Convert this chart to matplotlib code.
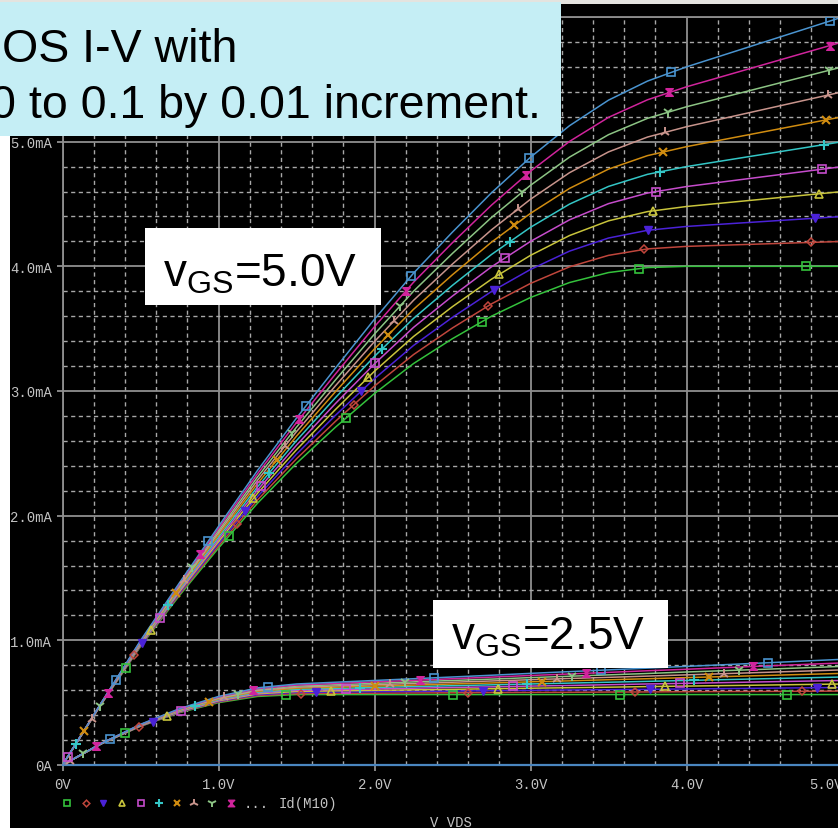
import numpy as np
import matplotlib
matplotlib.use("Agg")
import matplotlib.pyplot as plt
from matplotlib.patches import Rectangle
from matplotlib.lines import Line2D
from matplotlib.path import Path

# ---------------- data ----------------
vds = [0, 0.25, 0.5, 0.75, 1.0, 1.25, 1.5, 1.75, 2.0, 2.25, 2.5, 2.75,
       3.0, 3.25, 3.5, 3.75, 4.0, 4.5, 5.0]
lambdas = [0.00, 0.01, 0.02, 0.03, 0.04, 0.05, 0.06, 0.07, 0.08, 0.09, 0.10]

# vGS = 5.0 V family, Id in mA
id5_l00 = [0, 0.490, 0.950, 1.360, 1.740, 2.100, 2.420, 2.710, 2.980, 3.220, 3.420, 3.600, 3.750, 3.870, 3.950, 3.990, 4.00, 4.00, 4.00]
id5_l01 = [0, 0.491, 0.955, 1.370, 1.757, 2.126, 2.456, 2.757, 3.040, 3.292, 3.506, 3.699, 3.863, 3.996, 4.088, 4.140, 4.16, 4.18, 4.20]
id5_l02 = [0, 0.492, 0.960, 1.380, 1.775, 2.153, 2.493, 2.805, 3.099, 3.365, 3.591, 3.798, 3.975, 4.122, 4.227, 4.289, 4.32, 4.36, 4.40]
id5_l03 = [0, 0.494, 0.964, 1.391, 1.792, 2.179, 2.529, 2.852, 3.159, 3.437, 3.677, 3.897, 4.088, 4.247, 4.365, 4.439, 4.48, 4.54, 4.60]
id5_l04 = [0, 0.495, 0.969, 1.401, 1.810, 2.205, 2.565, 2.900, 3.218, 3.510, 3.762, 3.996, 4.200, 4.373, 4.503, 4.588, 4.64, 4.72, 4.80]
id5_l05 = [0, 0.496, 0.974, 1.411, 1.827, 2.231, 2.602, 2.947, 3.278, 3.582, 3.848, 4.095, 4.313, 4.499, 4.641, 4.738, 4.80, 4.90, 5.00]
id5_l06 = [0, 0.497, 0.979, 1.421, 1.844, 2.258, 2.638, 2.995, 3.338, 3.655, 3.933, 4.194, 4.425, 4.625, 4.780, 4.888, 4.96, 5.08, 5.20]
id5_l07 = [0, 0.499, 0.983, 1.431, 1.862, 2.284, 2.674, 3.042, 3.397, 3.727, 4.019, 4.293, 4.538, 4.751, 4.918, 5.037, 5.12, 5.26, 5.40]
id5_l08 = [0, 0.500, 0.988, 1.442, 1.879, 2.310, 2.710, 3.089, 3.457, 3.800, 4.104, 4.392, 4.650, 4.876, 5.056, 5.187, 5.28, 5.44, 5.60]
id5_l09 = [0, 0.501, 0.993, 1.452, 1.897, 2.336, 2.747, 3.137, 3.516, 3.872, 4.190, 4.491, 4.763, 5.002, 5.195, 5.336, 5.44, 5.62, 5.80]
id5_l10 = [0, 0.502, 0.998, 1.462, 1.914, 2.363, 2.783, 3.184, 3.576, 3.945, 4.275, 4.590, 4.875, 5.128, 5.333, 5.486, 5.60, 5.80, 6.00]

# vGS = 2.5 V family, Id in mA
id25_l00 = [0, 0.170, 0.310, 0.420, 0.500, 0.550, 0.565, 0.565, 0.565, 0.565, 0.565, 0.565, 0.565, 0.565, 0.565, 0.565, 0.565, 0.565, 0.565]
id25_l01 = [0, 0.170, 0.312, 0.423, 0.505, 0.557, 0.573, 0.575, 0.576, 0.578, 0.579, 0.581, 0.582, 0.583, 0.585, 0.586, 0.588, 0.590, 0.593]
id25_l02 = [0, 0.171, 0.313, 0.426, 0.510, 0.564, 0.582, 0.585, 0.588, 0.590, 0.593, 0.596, 0.599, 0.602, 0.605, 0.607, 0.610, 0.616, 0.622]
id25_l03 = [0, 0.171, 0.315, 0.429, 0.515, 0.571, 0.590, 0.595, 0.599, 0.603, 0.607, 0.612, 0.616, 0.620, 0.624, 0.629, 0.633, 0.641, 0.650]
id25_l04 = [0, 0.172, 0.316, 0.433, 0.520, 0.578, 0.599, 0.605, 0.610, 0.616, 0.622, 0.627, 0.633, 0.638, 0.644, 0.650, 0.655, 0.667, 0.678]
id25_l05 = [0, 0.172, 0.318, 0.436, 0.525, 0.584, 0.607, 0.614, 0.622, 0.629, 0.636, 0.643, 0.650, 0.657, 0.664, 0.671, 0.678, 0.692, 0.706]
id25_l06 = [0, 0.173, 0.319, 0.439, 0.530, 0.591, 0.616, 0.624, 0.633, 0.641, 0.650, 0.658, 0.667, 0.675, 0.684, 0.692, 0.701, 0.718, 0.735]
id25_l07 = [0, 0.173, 0.321, 0.442, 0.535, 0.598, 0.624, 0.634, 0.644, 0.654, 0.664, 0.674, 0.684, 0.694, 0.703, 0.713, 0.723, 0.743, 0.763]
id25_l08 = [0, 0.173, 0.322, 0.445, 0.540, 0.605, 0.633, 0.644, 0.655, 0.667, 0.678, 0.689, 0.701, 0.712, 0.723, 0.734, 0.746, 0.768, 0.791]
id25_l09 = [0, 0.174, 0.324, 0.448, 0.545, 0.612, 0.641, 0.654, 0.667, 0.679, 0.692, 0.705, 0.718, 0.730, 0.743, 0.756, 0.768, 0.794, 0.819]
id25_l10 = [0, 0.174, 0.326, 0.452, 0.550, 0.619, 0.650, 0.664, 0.678, 0.692, 0.706, 0.720, 0.735, 0.749, 0.763, 0.777, 0.791, 0.819, 0.848]

# zero-current trace along the axis
vds_zero = [0, 5.0]
id_zero = [0, 0]

xtick_vals = [0, 1, 2, 3, 4, 5]
xtick_labels = ["0V", "1.0V", "2.0V", "3.0V", "4.0V", "5.0V"]
ytick_vals = [0, 1, 2, 3, 4, 5, 6]
ytick_labels = ["0A", "1.0mA", "2.0mA", "3.0mA", "4.0mA", "5.0mA", "6.0mA"]

family_5 = [id5_l00, id5_l01, id5_l02, id5_l03, id5_l04, id5_l05,
            id5_l06, id5_l07, id5_l08, id5_l09, id5_l10]
family_25 = [id25_l00, id25_l01, id25_l02, id25_l03, id25_l04, id25_l05,
             id25_l06, id25_l07, id25_l08, id25_l09, id25_l10]

# ---------------- styles ----------------
W, H = 838, 829
colors = ['#34c23c', '#c0463c', '#4b22d8', '#c8c43c', '#c64ccc', '#34c6c6',
          '#d08c10', '#c8948c', '#8cc484', '#d0249c', '#4a94d0']
hourglass = Path([(-1, 1), (1, 1), (-1, -1), (1, -1), (-1, 1)])
mstyles = [
    dict(marker='s', mfc='none', ms=5.5, mew=1.2),
    dict(marker='D', mfc='none', ms=4.0, mew=1.1),
    dict(marker='v', ms=5.5, mew=1.0),
    dict(marker='^', mfc='none', ms=5.5, mew=1.2),
    dict(marker='s', mfc='none', ms=5.5, mew=1.2),
    dict(marker='+', ms=6.5, mew=1.5),
    dict(marker='x', ms=5.5, mew=1.5),
    dict(marker='2', ms=7.5, mew=1.4),
    dict(marker='1', ms=7.5, mew=1.4),
    dict(marker=hourglass, ms=5.5, mew=1.0),
    dict(marker='s', mfc='none', ms=5.5, mew=1.2),
]
grid_major = '#8f8f8f'
grid_minor = '#a8a8a8'
label_col = '#c4c4c4'
mono = 'Liberation Mono'
sans = 'Liberation Sans'

plt.rcParams['mathtext.fontset'] = 'custom'
plt.rcParams['mathtext.rm'] = sans
plt.rcParams['mathtext.it'] = sans + ':italic'
plt.rcParams['mathtext.bf'] = sans + ':bold'


def fx(x):
    return x / W


def fy(y):
    return 1 - y / H


fig = plt.figure(figsize=(W / 100, H / 100), dpi=100, facecolor='black')
ax = fig.add_axes([62.5 / W, 1 - 766 / H, 780 / W, 748 / H])
ax.set_facecolor('black')
ax.set_xlim(0, 5)
ax.set_ylim(0, 6)

ax.set_xticks(xtick_vals)
ax.set_xticklabels(xtick_labels)
ax.set_yticks(ytick_vals)
ax.set_yticklabels(ytick_labels)
ax.set_xticks(np.arange(0, 5.01, 0.2), minor=True)
ax.set_yticks(np.arange(0, 6.01, 0.2), minor=True)
ax.tick_params(which='minor', length=0)
ax.tick_params(which='major', direction='out', length=4.5, width=1.3,
               color=grid_major, labelcolor=label_col, labelsize=10)
ax.tick_params(axis='x', pad=4)
ax.tick_params(axis='y', pad=3)
for lab in ax.get_xticklabels() + ax.get_yticklabels():
    lab.set_family(mono)
# last x label is kept inside the plotting window, as the simulator does
ax.get_xticklabels()[-1].set_horizontalalignment('right')
ax.grid(which='minor', color=grid_minor, lw=1.0, ls=(0, (3, 2.5)))
ax.grid(which='major', color=grid_major, lw=1.3, ls='-')
ax.set_axisbelow(True)
for side in ['left', 'top', 'bottom']:
    ax.spines[side].set_color(grid_major)
    ax.spines[side].set_linewidth(1.3)
ax.spines['right'].set_visible(False)

# zero trace
ax.plot(vds_zero, id_zero, color='#4a86c0', lw=1.6, zorder=3, clip_on=False)


def place_markers(xd, yd, offset_px, spacing_px, color, style):
    pts = ax.transData.transform(np.column_stack([xd, yd]))
    seg = np.hypot(np.diff(pts[:, 0]), np.diff(pts[:, 1]))
    cum = np.concatenate([[0], np.cumsum(seg)])
    targets = np.arange(offset_px, cum[-1], spacing_px)
    mx = np.interp(targets, cum, pts[:, 0])
    my = np.interp(targets, cum, pts[:, 1])
    dat = ax.transData.inverted().transform(np.column_stack([mx, my]))
    st = dict(style)
    st.setdefault('mfc', color)
    ax.plot(dat[:, 0], dat[:, 1], ls='none', color=color, zorder=4, **st)


spacing = 167.0
for fam, base in [(family_25, 70.0), (family_5, 116.0)]:
    for k, (ids, lam) in enumerate(zip(fam, lambdas)):
        ax.plot(vds, ids, color=colors[k], lw=1.1, zorder=3)
        off = (base + 15.1 * k) % spacing
        place_markers(vds, ids, off, spacing, colors[k], mstyles[k])

# ---------------- legend row and axis title (PSpice style) ----------------
leg_x = [66.7, 86, 103.3, 121.7, 141, 159, 176.7, 194.3, 212.3, 231]
for k, xp in enumerate(leg_x):
    st = dict(mstyles[k])
    st.setdefault('mfc', colors[k])
    st['ms'] = st['ms'] * 0.85
    fig.add_artist(Line2D([fx(xp)], [fy(804)], transform=fig.transFigure,
                          ls='none', color=colors[k], **st))
fig.text(fx(244), fy(804), "...", color=label_col, fontsize=10, family=mono,
         va='center', ha='left')
fig.text(fx(279), fy(804), "Id(M10)", color=label_col, fontsize=10, family=mono,
         va='center', ha='left')
fig.text(fx(430), fy(823), "V VDS", color=label_col, fontsize=10, family=mono,
         va='center', ha='left')

# ---------------- screenshot borders and overlay boxes ----------------
fig.add_artist(Rectangle((0, 0), fx(10), 1, transform=fig.transFigure,
                         facecolor='white', edgecolor='none', zorder=1))
fig.add_artist(Rectangle((0, fy(5)), 1, 5 / H, transform=fig.transFigure,
                         facecolor='#e4e3df', edgecolor='none', zorder=1))

# cyan title box
fig.add_artist(Rectangle((0, fy(137)), fx(561), (137 - 3) / H,
                         transform=fig.transFigure, facecolor='#c5eef5',
                         edgecolor='none', zorder=2))
fig.text(fx(237), fy(62), "OS I-V with", fontsize=33.5, family=sans,
         color='black', ha='right', va='baseline', zorder=5)
fig.text(fx(541), fy(118), "0 to 0.1 by 0.01 increment.", fontsize=33.5,
         family=sans, color='black', ha='right', va='baseline', zorder=5)

# white label boxes
fig.add_artist(Rectangle((fx(145), fy(306)), (381 - 145) / W, (306 - 229) / H,
                         transform=fig.transFigure, facecolor='white',
                         edgecolor='none', zorder=2))
fig.text(fx(163), fy(287), r"v$_{\mathrm{GS}}$=5.0V", fontsize=33, family=sans,
         color='black', ha='left', va='baseline', zorder=5)

fig.add_artist(Rectangle((fx(433), fy(669)), (668 - 433) / W, (669 - 601) / H,
                         transform=fig.transFigure, facecolor='white',
                         edgecolor='none', zorder=2))
fig.text(fx(451), fy(650), r"v$_{\mathrm{GS}}$=2.5V", fontsize=33, family=sans,
         color='black', ha='left', va='baseline', zorder=5)

fig.savefig("out.png", dpi=100, facecolor='black')
